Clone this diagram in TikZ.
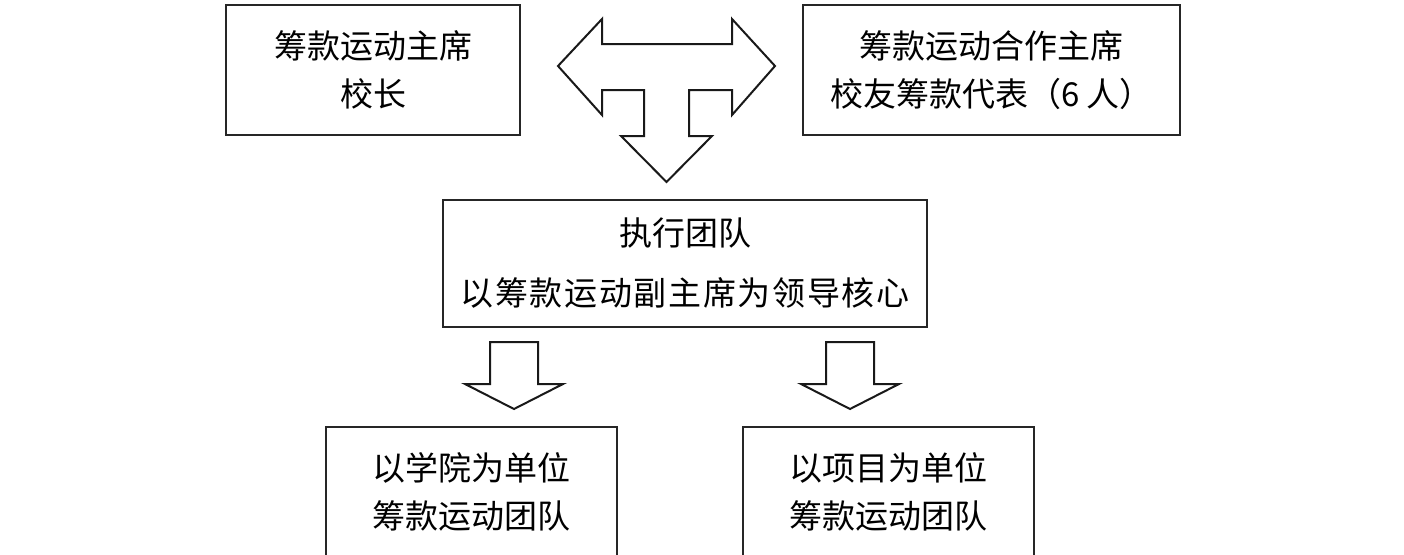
\documentclass[tikz,border=0pt]{standalone}
\usepackage{fontspec}
\newfontfamily\cjk{Noto Sans CJK SC}
\usetikzlibrary{positioning}

\begin{document}
\begin{tikzpicture}[
  x=1pt, y=-1pt,
  font=\cjk\fontsize{33}{48}\selectfont,
  box/.style={rectangle, draw=black!85, line width=2.5pt, inner sep=0pt, align=center},
  blockarrow/.style={draw=black!90, line width=2pt, line join=miter, fill=white}
]
\useasboundingbox (0,0) rectangle (1404,554);

\node[box, minimum width=294pt, minimum height=130pt] (chair) at (373,70) {筹款运动主席\\校长};
\node[box, minimum width=377pt, minimum height=130pt] (cochair) at (991.5,70) {筹款运动合作主席\\校友筹款代表（6 人）};
\node[box, minimum width=484pt, minimum height=127pt, font=\cjk\fontsize{33}{60}\selectfont] (exec) at (685,263.5)
  {执行团队\\{\addfontfeature{LetterSpace=5}以筹款运动副主席为领导核心}};
\node[box, minimum width=291pt, minimum height=130pt] (college) at (471.5,492) {以学院为单位\\筹款运动团队};
\node[box, minimum width=291pt, minimum height=130pt] (project) at (888.5,492) {以项目为单位\\筹款运动团队};

% T-shaped arrow between the chairs and the executive team
\draw[blockarrow] (558,66) -- (602,19) -- (602,44) -- (732,44) -- (732,19) -- (775,66)
  -- (732,115) -- (732,90) -- (689,90) -- (689,136) -- (712,136) -- (666.5,182)
  -- (621,136) -- (644,136) -- (644,90) -- (602,90) -- (602,115) -- cycle;

% down arrows to the two teams
\foreach \x in {514,850} {
  \draw[blockarrow] (\x-24,342) -- (\x+24,342) -- (\x+24,384) -- (\x+49,384)
    -- (\x,409) -- (\x-49,384) -- (\x-24,384) -- cycle;
}

\end{tikzpicture}
\end{document}
